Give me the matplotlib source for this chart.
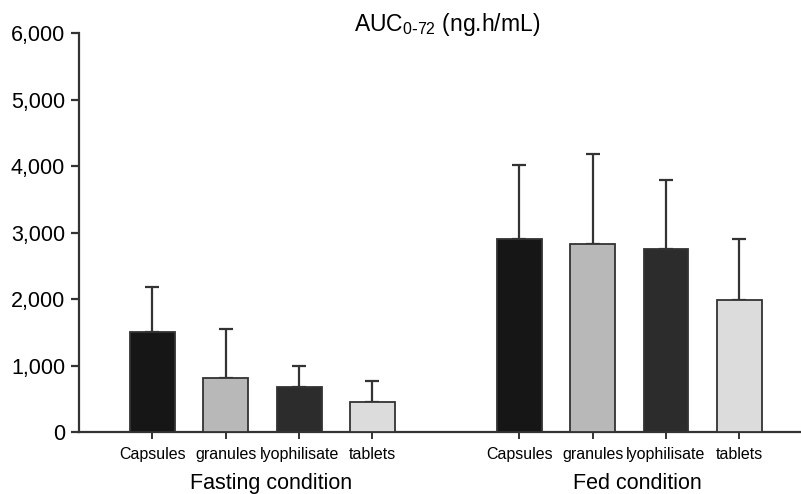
import matplotlib
matplotlib.use('Agg')
import matplotlib.pyplot as plt
from matplotlib import ticker as mtick
from matplotlib import transforms as mtrans
import numpy as np

plt.rcParams['font.family'] = ['Liberation Sans', 'DejaVu Sans']

# data
formulations = ['Capsules', 'granules', 'lyophilisate', 'tablets']
conditions = ['Fasting condition', 'Fed condition']
fasting_mean = [1500, 810, 680, 450]
fasting_err = [680, 740, 310, 320]
fed_mean = [2900, 2825, 2750, 1985]
fed_err = [1115, 1355, 1040, 915]
yticks = [0, 1000, 2000, 3000, 4000, 5000, 6000]

barColor = ['#161616', '#b8b8b8', '#2c2c2c', '#dcdcdc']
lineColor = '#333333'

fig = plt.figure(figsize=(8.01, 4.94), dpi=100)
ax = fig.add_axes([79/801, 1-432/494, 1-79/801, (432-33)/494])

pos_fast = np.arange(1, 5)
pos_fed = np.arange(6, 10)
w = 0.61

for pos, mean, err in [(pos_fast, fasting_mean, fasting_err), (pos_fed, fed_mean, fed_err)]:
    ax.bar(pos, mean, width=w, color=barColor, edgecolor=lineColor, linewidth=1.3, zorder=3)
    ax.errorbar(pos, mean, yerr=[np.zeros(len(err)), err], fmt='none',
                ecolor=lineColor, elinewidth=1.6, capsize=5, capthick=1.6, zorder=2)

ax.set_xlim(0, 9.84)
ax.set_ylim(0, 6000)
ax.set_yticks(yticks)
ax.yaxis.set_major_formatter(mtick.FuncFormatter(lambda v, p: '{:,.0f}'.format(v)))
ax.set_xticks(list(pos_fast) + list(pos_fed))
ax.set_xticklabels(formulations * 2, fontsize=11.5)

for s in ['top', 'right']:
    ax.spines[s].set_visible(False)
for s in ['left', 'bottom']:
    ax.spines[s].set_color(lineColor)
    ax.spines[s].set_linewidth(1.6)
ax.spines['left'].set_bounds(0, 6000)

ax.tick_params(axis='y', labelsize=15.5, length=6, width=1.6, color=lineColor, pad=4)
ax.tick_params(axis='x', length=5, width=1.4, color=lineColor, pad=6)

# group labels: x in data units, y in figure units
trans = mtrans.blended_transform_factory(ax.transData, fig.transFigure)
ax.text(pos_fast.mean() + 0.12, 1-489/494, conditions[0], transform=trans,
        ha='center', va='baseline', fontsize=15.5)
ax.text(pos_fed.mean() + 0.11, 1-489/494, conditions[1], transform=trans,
        ha='center', va='baseline', fontsize=15.5)

fig.text(447/801, 1-31/494, r'AUC$_{\mathregular{0\text{-}72}}$ (ng.h/mL)',
         ha='center', va='baseline', fontsize=16.5)

plt.savefig('out.png', dpi=100)
